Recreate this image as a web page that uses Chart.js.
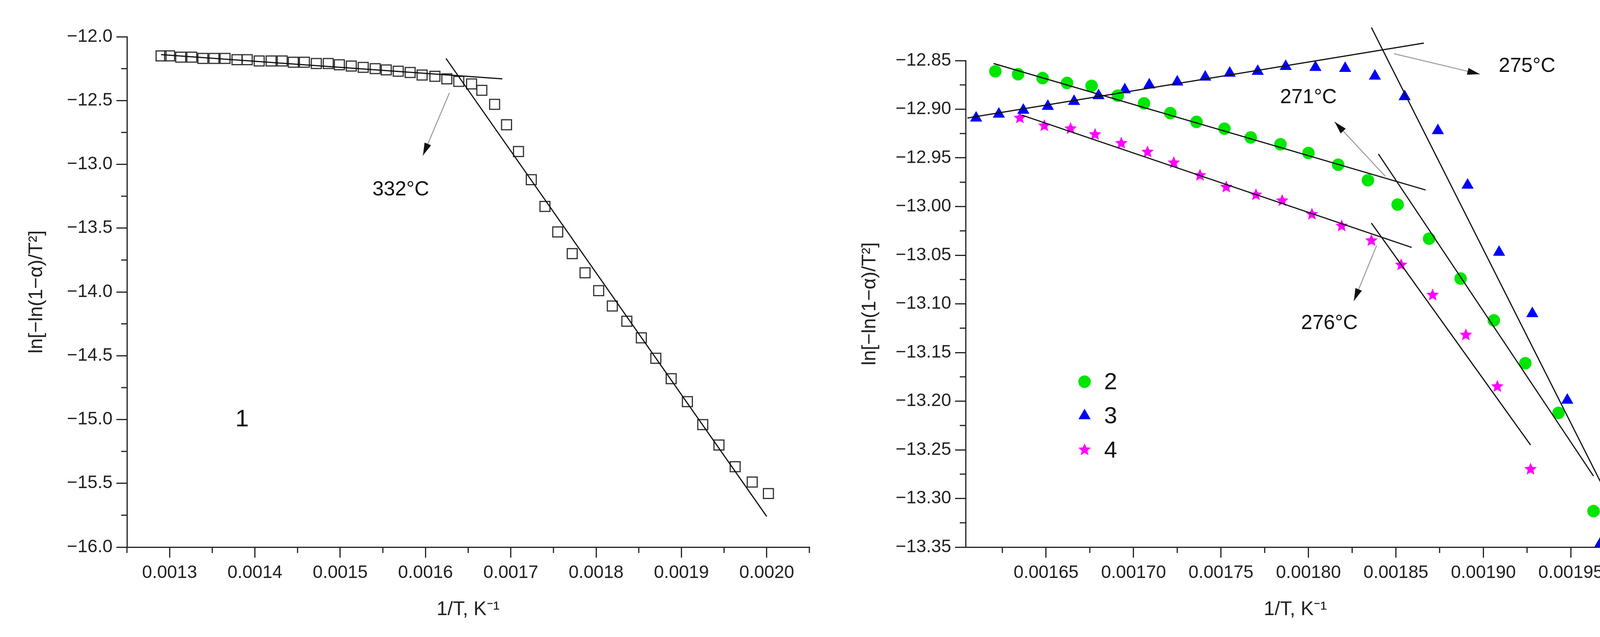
<!DOCTYPE html>
<html lang="en">
<head>
<meta charset="UTF-8">
<title>ln[-ln(1-a)/T^2] vs 1/T</title>
<script src="https://cdn.jsdelivr.net/npm/chart.js"></script>
<style>
  html, body { margin: 0; padding: 0; background: #fff; overflow: hidden; width: 4196px; height: 1630px; }
  canvas { position: absolute; top: 0; }
  #c1 { left: 0; }
  #c2 { left: 2100px; }
</style>
</head>
<body>
<canvas id="c1" width="2100" height="1630" style="width:2100px;height:1630px"></canvas>
<canvas id="c2" width="2096" height="1630" style="width:2096px;height:1630px"></canvas>
<script>
// ---- panel 1 data ----
const x1 = [0.001290, 0.001300, 0.001313, 0.001326, 0.001339, 0.001352, 0.001365, 0.001379, 0.001391, 0.001405,
  0.001419, 0.001432, 0.001445, 0.001458, 0.001472, 0.001486, 0.001499, 0.001513, 0.001527, 0.001541,
  0.001554, 0.001568, 0.001582, 0.001596, 0.001611, 0.001625, 0.001639,
  0.001654, 0.001666, 0.001681, 0.001695, 0.001709, 0.001724, 0.001740, 0.001755, 0.001772, 0.001787,
  0.001803, 0.001819, 0.001836, 0.001853, 0.001870, 0.001888, 0.001907, 0.001925, 0.001944, 0.001963,
  0.001983, 0.002002];
const y1 = [-12.15, -12.15, -12.16, -12.16, -12.17, -12.17, -12.17, -12.18, -12.18, -12.19,
  -12.19, -12.19, -12.20, -12.20, -12.21, -12.21, -12.22, -12.23, -12.24, -12.25,
  -12.26, -12.27, -12.28, -12.30, -12.31, -12.33, -12.35,
  -12.37, -12.42, -12.53, -12.69, -12.90, -13.12, -13.33, -13.53, -13.70, -13.85,
  -13.99, -14.11, -14.23, -14.36, -14.52, -14.68, -14.86, -15.04, -15.20, -15.37,
  -15.49, -15.58];
const fit1Flat = [[0.00129, -12.14], [0.00169, -12.33]];
const fit1Steep = [[0.001624, -12.17], [0.00200, -15.76]];
const x1Ticks = [0.0013, 0.0014, 0.0015, 0.0016, 0.0017, 0.0018, 0.0019, 0.0020];
const y1Ticks = [-12.0, -12.5, -13.0, -13.5, -14.0, -14.5, -15.0, -15.5, -16.0];

// ---- panel 2 data ----
const x2 = [0.001621, 0.001634, 0.001648, 0.001662, 0.001676, 0.001691, 0.001706, 0.001721, 0.001736, 0.001752,
  0.001767, 0.001784, 0.001800, 0.001817, 0.001834, 0.001851, 0.001869, 0.001887, 0.001906, 0.001924,
  0.001943, 0.001963];
const y2 = [-12.861, -12.864, -12.868, -12.873, -12.876, -12.886, -12.894, -12.904, -12.913, -12.920,
  -12.929, -12.936, -12.945, -12.957, -12.973, -12.998, -13.033, -13.074, -13.117, -13.161,
  -13.212, -13.313];
const x3 = [0.001610, 0.001623, 0.001637, 0.001651, 0.001666, 0.001680, 0.001695, 0.001709, 0.001725, 0.001741,
  0.001755, 0.001771, 0.001787, 0.001804, 0.001821, 0.001838, 0.001855, 0.001874, 0.001891, 0.001909,
  0.001928, 0.001948, 0.001967];
const y3 = [-12.909, -12.905, -12.901, -12.897, -12.892, -12.886, -12.880, -12.875, -12.872, -12.867,
  -12.863, -12.861, -12.856, -12.857, -12.858, -12.866, -12.887, -12.922, -12.978, -13.047,
  -13.110, -13.199, -13.346];
const x4 = [0.001635, 0.001649, 0.001664, 0.001678, 0.001693, 0.001708, 0.001723, 0.001738, 0.001753, 0.001770,
  0.001785, 0.001802, 0.001819, 0.001836, 0.001853, 0.001871, 0.001890, 0.001908, 0.001927];
const y4 = [-12.909, -12.917, -12.920, -12.926, -12.935, -12.944, -12.955, -12.968, -12.980, -12.988,
  -12.994, -13.008, -13.020, -13.035, -13.060, -13.091, -13.132, -13.185, -13.270];
const fits2 = [
  [[0.001605, -12.909], [0.001866, -12.832]],
  [[0.001836, -12.816], [0.001967, -13.283]],
  [[0.001620, -12.853], [0.001867, -12.983]],
  [[0.001840, -12.946], [0.001963, -13.277]],
  [[0.001636, -12.906], [0.001859, -13.042]],
  [[0.001836, -13.017], [0.001927, -13.245]]
];
const x2Ticks = [0.00165, 0.00170, 0.00175, 0.00180, 0.00185, 0.00190, 0.00195];
const y2Ticks = [-12.85, -12.90, -12.95, -13.00, -13.05, -13.10, -13.15, -13.20, -13.25, -13.30, -13.35];

const FONT = '"Liberation Sans", Arial, sans-serif';
const pts = (xs, ys) => xs.map((x, i) => ({ x: x, y: ys[i] }));
const seg = s => s.map(p => ({ x: p[0], y: p[1] }));

function starImage(r, color) {
  const c = document.createElement('canvas');
  c.width = c.height = 2 * r + 2;
  const g = c.getContext('2d');
  g.beginPath();
  for (let i = 0; i < 10; i++) {
    const rr = i % 2 ? r * 0.45 : r;
    const a = -Math.PI / 2 + i * Math.PI / 5;
    g.lineTo(r + 1 + rr * Math.cos(a), r + 1 + rr * Math.sin(a));
  }
  g.closePath();
  g.fillStyle = color;
  g.fill();
  return c;
}
const star = starImage(17, '#ff00ff');

function lineDs(s) {
  return { type: 'scatter', data: seg(s), showLine: true, borderColor: '#111', borderWidth: 3,
    pointRadius: 0, clip: false, order: 0 };
}

// minor ticks, arrows, texts, legend
const extras = {
  id: 'extras',
  afterDraw(chart, args, o) {
    const g = chart.ctx, xs = chart.scales.x, ys = chart.scales.y;
    g.save();
    g.strokeStyle = '#222';
    g.lineWidth = 3;
    o.xMinor.forEach(v => {
      const p = xs.getPixelForValue(v);
      g.beginPath(); g.moveTo(p, xs.top); g.lineTo(p, xs.top + 15); g.stroke();
    });
    o.yMinor.forEach(v => {
      const p = ys.getPixelForValue(v);
      g.beginPath(); g.moveTo(ys.right, p); g.lineTo(ys.right - 15, p); g.stroke();
    });
    o.arrows.forEach(a => {
      const ax = xs.getPixelForValue(a[0]), ay = ys.getPixelForValue(a[1]);
      const bx = xs.getPixelForValue(a[2]), by = ys.getPixelForValue(a[3]);
      g.strokeStyle = '#999'; g.lineWidth = 2.5;
      g.beginPath(); g.moveTo(ax, ay); g.lineTo(bx, by); g.stroke();
      const ang = Math.atan2(by - ay, bx - ax);
      g.fillStyle = '#111';
      g.beginPath();
      g.moveTo(bx, by);
      g.lineTo(bx - 32 * Math.cos(ang) + 9 * Math.sin(ang), by - 32 * Math.sin(ang) - 9 * Math.cos(ang));
      g.lineTo(bx - 32 * Math.cos(ang) - 9 * Math.sin(ang), by - 32 * Math.sin(ang) + 9 * Math.cos(ang));
      g.closePath(); g.fill();
    });
    g.fillStyle = '#111';
    g.textAlign = 'center'; g.textBaseline = 'middle';
    o.texts.forEach(t => {
      g.font = t[3] + 'px ' + FONT;
      g.fillText(t[2], xs.getPixelForValue(t[0]), ys.getPixelForValue(t[1]));
    });
    if (o.legend) {
      chart.data.datasets.forEach((d, i) => {
        if (d.label === undefined) return;
        const it = o.legend[i];
        const px = xs.getPixelForValue(it[0]), py = ys.getPixelForValue(it[1]);
        g.fillStyle = d.backgroundColor || '#000';
        g.strokeStyle = d.backgroundColor || '#000';
        g.lineWidth = 0.01;
        Chart.helpers.drawPoint(g, { pointStyle: d.pointStyle, radius: d.pointRadius, rotation: 0 }, px, py);
        g.fillStyle = '#111';
        g.font = '60px ' + FONT;
        g.textAlign = 'left';
        g.fillText(d.label, px + 50, py + 3);
      });
    }
    g.restore();
  }
};

function axes(xmin, xmax, ymin, ymax, xt, yt, xd, yd, yw, ytp) {
  const grid = { drawOnChartArea: false, drawTicks: true, tickLength: 27, color: '#222', lineWidth: 3 };
  const border = { display: true, color: '#222', width: 3 };
  const tfont = { family: FONT, size: 46 };
  return {
    x: { type: 'linear', min: xmin, max: xmax, grid: grid, border: border,
      afterBuildTicks: s => { s.ticks = xt.map(v => ({ value: v })); },
      afterFit: s => { s.height = 230; },
      ticks: { color: '#222', font: tfont, padding: 12, maxRotation: 0, autoSkip: false,
        callback: v => v.toFixed(xd) },
      title: { display: true, text: '1/T, K\u207B\u00B9', color: '#222', font: { family: FONT, size: 50 },
        padding: { top: 0, bottom: 40 } } },
    y: { type: 'linear', min: ymin, max: ymax, grid: grid, border: border,
      afterBuildTicks: s => { s.ticks = yt.map(v => ({ value: v })); },
      afterFit: s => { s.width = yw; },
      ticks: { color: '#222', font: tfont, padding: 10, autoSkip: false,
        callback: v => '\u2212' + Math.abs(v).toFixed(yd) },
      title: { display: true, text: 'ln[\u2212ln(1\u2212\u03B1)/T\u00B2]', color: '#222',
        font: { family: FONT, size: 50 }, padding: { top: ytp, bottom: 0 } } }
  };
}

const minor = (a, b, step, n) => { const r = []; for (let i = 0; i <= n; i++) r.push(a + i * step); return r; };

new Chart(document.getElementById('c1'), {
  type: 'scatter',
  data: { datasets: [
    { data: pts(x1, y1), pointStyle: 'rect', pointRadius: 18, borderColor: '#333', borderWidth: 3,
      backgroundColor: 'rgba(0,0,0,0)', order: 1 },
    lineDs(fit1Flat), lineDs(fit1Steep)
  ] },
  options: {
    responsive: false, devicePixelRatio: 1, animation: false,
    layout: { padding: { left: 0, top: 94, right: 28, bottom: 0 } },
    plugins: { legend: { display: false }, tooltip: { enabled: false },
      extras: {
        xMinor: minor(0.00125, 0, 0.0001, 8),
        yMinor: minor(-15.75, 0, 0.5, 7),
        arrows: [[0.001628, -12.44, 0.001597, -12.93]],
        texts: [[0.001571, -13.2, '332\u00B0C', 52], [0.001385, -15.0, '1', 62]]
      } },
    scales: axes(0.00125, 0.00205, -16.0, -12.0, x1Ticks, y1Ticks, 4, 1, 325, 64)
  },
  plugins: [extras]
});

new Chart(document.getElementById('c2'), {
  type: 'scatter',
  data: { datasets: [
    { label: '2', data: pts(x2, y2), pointStyle: 'circle', pointRadius: 16, backgroundColor: '#00e600',
      borderColor: '#00e600', borderWidth: 0, clip: false, order: 1 },
    { label: '3', data: pts(x3, y3), pointStyle: 'triangle', pointRadius: 18, backgroundColor: '#0000ff',
      borderColor: '#0000ff', borderWidth: 0, clip: false, order: 1 },
    { label: '4', data: pts(x4, y4), pointStyle: star, pointRadius: 17, clip: false, order: 1 }
  ].concat(fits2.map(lineDs)) },
  options: {
    responsive: false, devicePixelRatio: 1, animation: false,
    layout: { padding: { left: 0, top: 155, right: 36, bottom: 0 } },
    plugins: { legend: { display: false }, tooltip: { enabled: false },
      extras: {
        xMinor: minor(0.001625, 0, 0.00005, 7),
        yMinor: minor(-13.325, 0, 0.05, 9),
        arrows: [[0.001849, -12.843, 0.001898, -12.864],
                 [0.001844, -12.969, 0.001815, -12.913],
                 [0.001839, -13.040, 0.001826, -13.097]],
        texts: [[0.001925, -12.856, '275\u00B0C', 52], [0.001800, -12.888, '271\u00B0C', 52],
                [0.001812, -13.120, '276\u00B0C', 52]],
        legend: [[0.001672, -13.18], [0.001672, -13.215], [0.001672, -13.25]]
      } },
    scales: axes(0.001604, 0.001981, -13.35, -12.85, x2Ticks, y2Ticks, 5, 2, 372, 97)
  },
  plugins: [extras]
});
</script>
</body>
</html>
